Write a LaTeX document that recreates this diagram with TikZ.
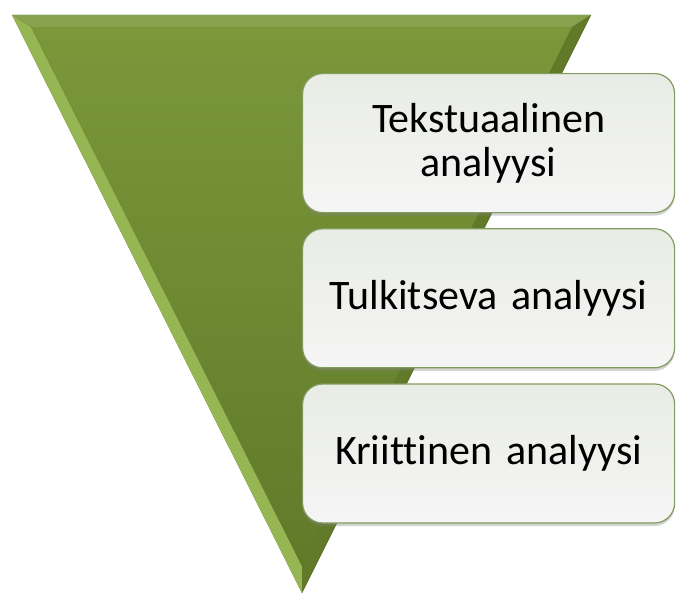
\documentclass[tikz,border=0pt]{standalone}
\usepackage{fontspec}
\setmainfont{Carlito}[Ligatures=NoCommon]
\usetikzlibrary{positioning,shadows}
\definecolor{olive}{RGB}{122,152,58}
\definecolor{olivedark}{RGB}{96,122,42}
\definecolor{olivelight}{RGB}{150,182,84}
\definecolor{boxline}{RGB}{130,155,95}
\begin{document}
\begin{tikzpicture}[x=1pt,y=-1pt,
  stage/.style={draw=boxline,line width=1.2pt,rounded corners=20pt,
    top color={rgb,255:red,233;green,236;blue,229},bottom color={rgb,255:red,245;green,245;blue,245},
    minimum width=372pt,minimum height=139pt,text width=350pt,align=center,
    font=\fontsize{42}{44}\selectfont,
    drop shadow={opacity=0.35,shadow xshift=0pt,shadow yshift=-3pt}}]
\useasboundingbox (0,0) rectangle (677,594);
% funnel
\fill[olivedark!80!black] (12,15) -- (591,15) -- (302,593) -- cycle;
\fill[olivelight] (12,15) -- (31,27) -- (302,566) -- (302,593) -- cycle;
\fill[olive!90!white] (12,15) -- (591,15) -- (572,27) -- (31,27) -- cycle;
\fill[olivedark] (591,15) -- (302,593) -- (302,566) -- (572,27) -- cycle;
\shade[top color=olive,bottom color=olivedark] (31,27) -- (572,27) -- (302,566) -- cycle;
% stages
\node[stage,anchor=north west] (teks) at (302,73) {Tekstuaalinen\\analyysi};
\node[stage,below=15pt of teks] (tulk) {Tulkitseva analyysi};
\node[stage,below=15pt of tulk] (krit) {Kriittinen analyysi};
\end{tikzpicture}
\end{document}
